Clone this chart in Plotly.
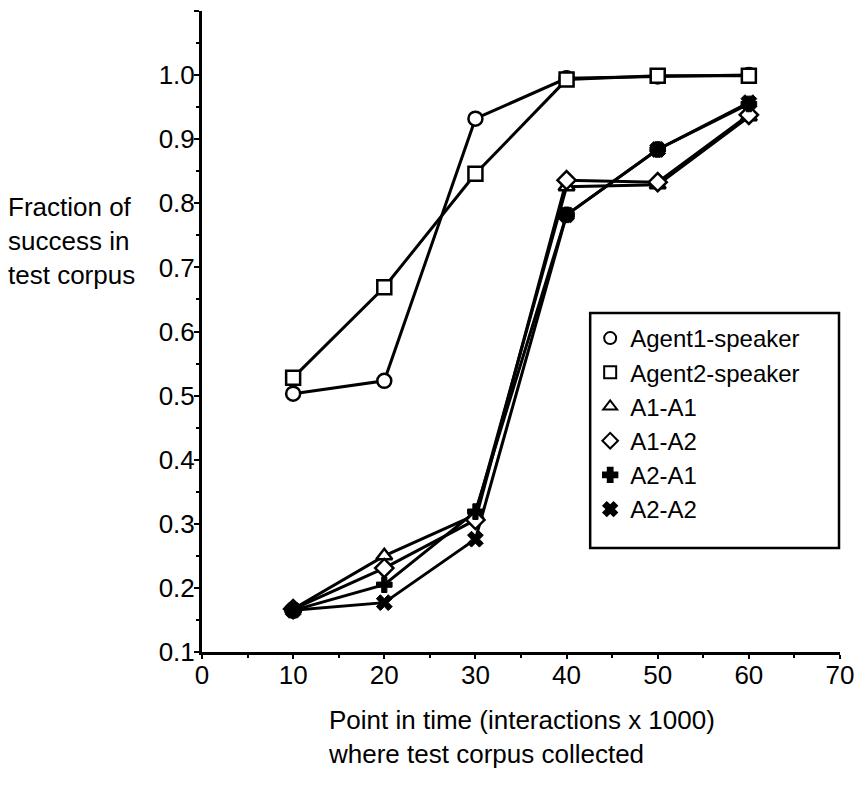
import plotly.graph_objects as go

x_vals = [10, 20, 30, 40, 50, 60]
agent1_speaker = [0.503, 0.523, 0.932, 0.995, 0.998, 1.0]
agent2_speaker = [0.528, 0.669, 0.846, 0.993, 0.999, 0.999]
a1_a1 = [0.167, 0.250, 0.314, 0.826, 0.829, 0.935]
a1_a2 = [0.167, 0.231, 0.306, 0.836, 0.833, 0.938]
a2_a1 = [0.165, 0.205, 0.319, 0.782, 0.884, 0.955]
a2_a2 = [0.165, 0.177, 0.276, 0.782, 0.884, 0.957]

y_tick_vals = [0.1, 0.2, 0.3, 0.4, 0.5, 0.6, 0.7, 0.8, 0.9, 1.0, 1.1]
y_tick_text = ["0.1", "0.2", "0.3", "0.4", "0.5", "0.6", "0.7", "0.8", "0.9", "1.0", ""]
x_tick_vals = [0, 10, 20, 30, 40, 50, 60, 70]

FONT = "Liberation Sans, Arial, Helvetica, sans-serif"

series = [
    ("Agent1-speaker", agent1_speaker, "circle", "white", 14, 2.5),
    ("Agent2-speaker", agent2_speaker, "square", "white", 14, 2.5),
    ("A1-A1", a1_a1, "triangle-up", "white", 14, 2.5),
    ("A1-A2", a1_a2, "diamond", "white", 14, 2.5),
    ("A2-A1", a2_a1, "cross", "black", 13, 1),
    ("A2-A2", a2_a2, "x", "black", 14, 1),
]

fig = go.Figure()
# connecting lines (drawn first, below markers)
for name, vals, sym, fill, size, lw in series:
    fig.add_trace(go.Scatter(
        x=x_vals, y=vals, name=name, mode="lines", showlegend=False,
        line=dict(color="black", width=3), hoverinfo="skip",
    ))
# markers (with legend entries)
for name, vals, sym, fill, size, lw in series:
    fig.add_trace(go.Scatter(
        x=x_vals, y=vals, name=name, mode="markers",
        marker=dict(symbol=sym, size=size, color=fill,
                    line=dict(color="black", width=lw)),
    ))

# pixel -> paper helpers
PL, PR, PT, PB = 202, 843, 11, 652
def px_x(p):
    return (p - PL) / (PR - PL)
def px_y(p):
    return (PB - p) / (PB - PT)

fig.update_layout(
    width=865, height=791,
    margin=dict(l=PL, r=865 - PR, t=PT, b=791 - PB),
    paper_bgcolor="white", plot_bgcolor="white",
    font=dict(family=FONT, size=26, color="black"),
    showlegend=True,
    legend=dict(
        x=px_x(592), y=px_y(316), xanchor="left", yanchor="top",
        bgcolor="rgba(0,0,0,0)", borderwidth=0,
        font=dict(family=FONT, size=24, color="black"),
        itemsizing="constant", tracegroupgap=0,
    ),
    shapes=[
        dict(type="rect", xref="paper", yref="paper",
             x0=px_x(592), x1=px_x(842), y0=px_y(548), y1=px_y(313),
             line=dict(color="black", width=2.5), fillcolor="white", layer="below"),
    ],
    xaxis=dict(
        range=[0, 70], tickmode="array", tickvals=x_tick_vals,
        showgrid=False, zeroline=False, showline=True,
        linecolor="black", linewidth=3,
        ticks="outside", ticklen=4, tickwidth=2, tickcolor="black",
        ticklabelstandoff=-6,
        tickfont=dict(family=FONT, size=26),
        minor=dict(dtick=5, ticks="outside", ticklen=3, tickwidth=2, tickcolor="black"),
    ),
    yaxis=dict(
        range=[0.1, 1.1], tickmode="array", tickvals=y_tick_vals, ticktext=y_tick_text,
        showgrid=False, zeroline=False, showline=True,
        linecolor="black", linewidth=3,
        ticks="outside", ticklen=5, tickwidth=2, tickcolor="black",
        ticklabelstandoff=-6,
        tickfont=dict(family=FONT, size=26),
        minor=dict(dtick=0.05, tick0=0.1, ticks="outside", ticklen=3, tickwidth=2, tickcolor="black"),
    ),
    annotations=[
        dict(text="Fraction of<br>success in<br>test corpus", xref="paper", yref="paper",
             x=px_x(5), y=px_y(241), xanchor="left", yanchor="middle",
             align="left", showarrow=False, font=dict(family=FONT, size=26)),
        dict(text="Point in time (interactions x 1000)<br>where test corpus collected",
             xref="paper", yref="paper", x=px_x(327), y=px_y(703),
             xanchor="left", yanchor="top", align="left", showarrow=False,
             font=dict(family=FONT, size=26)),
    ],
)

fig.write_html("out.html")
